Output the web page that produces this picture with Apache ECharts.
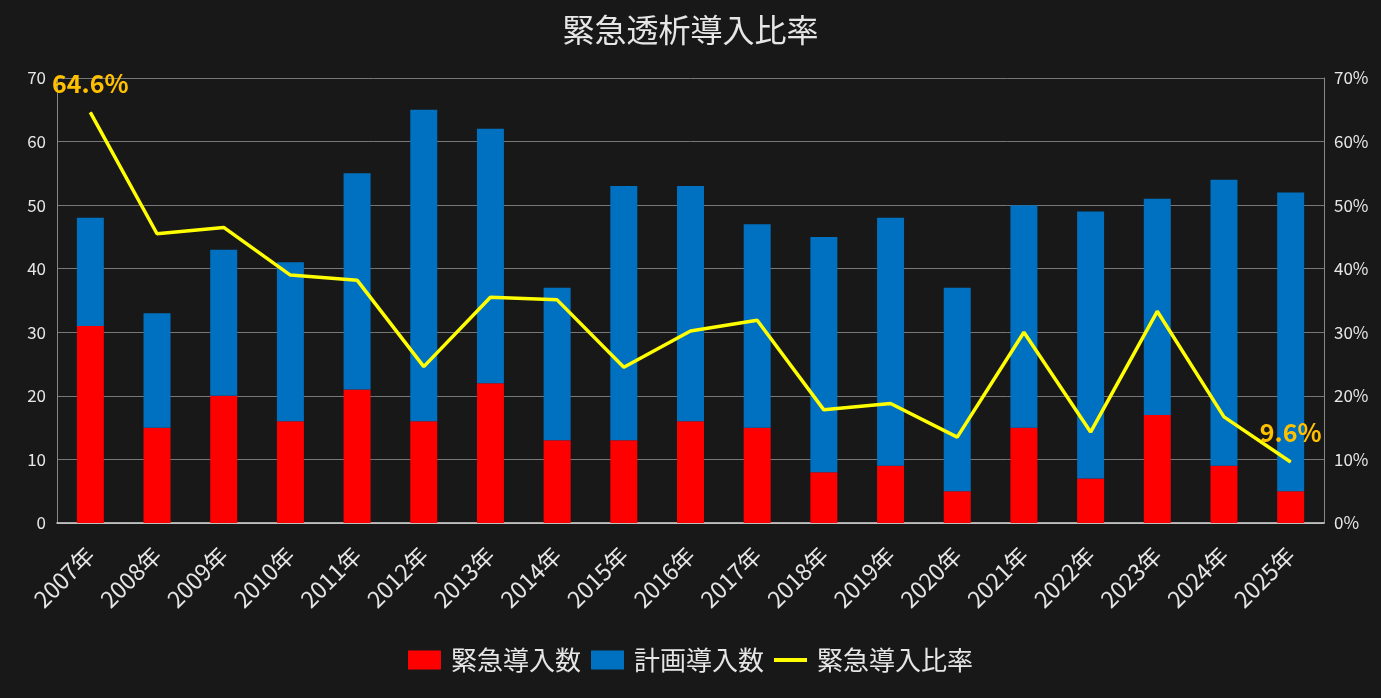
<!DOCTYPE html>
<html><head><meta charset="utf-8">
<script src="https://cdn.jsdelivr.net/npm/echarts@6/dist/echarts.min.js"></script>
<style>html,body{margin:0;padding:0;background:#181818;}#c{width:1381px;height:698px;}</style>
</head><body><div id="c"></div>
<script>
var years = ['2007年','2008年','2009年','2010年','2011年','2012年','2013年','2014年','2015年','2016年','2017年','2018年','2019年','2020年','2021年','2022年','2023年','2024年','2025年'];
var emergency = [31,15,20,16,21,16,22,13,13,16,15,8,9,5,15,7,17,9,5];
var planned = [17,18,23,25,34,49,40,24,40,37,32,37,39,32,35,42,34,45,47];
var ratio = [64.6,45.5,46.5,39.0,38.2,24.6,35.5,35.1,24.5,30.2,31.9,17.8,18.8,13.5,30.0,14.3,33.3,16.7,9.6];
var leftTicks = [0,10,20,30,40,50,60,70];
var rightTicks = ['0%','10%','20%','30%','40%','50%','60%','70%'];

var ff = '"Noto Sans CJK JP","Noto Sans",sans-serif';
var txt = '#e6e6e6';
var last = ratio.length - 1;
var chart = echarts.init(document.getElementById('c'));
chart.setOption({
  backgroundColor: '#181818',
  animation: false,
  textStyle: {fontFamily: ff},
  title: {text: '緊急透析導入比率', left: 'center', top: 9,
    textStyle: {color: txt, fontSize: 32, fontWeight: 'normal', fontFamily: ff}},
  legend: {bottom: 20, left: 'center', itemWidth: 33, itemHeight: 19, itemGap: 10,
    textStyle: {color: txt, fontSize: 26, fontFamily: ff, padding: [0, 0, 0, 5]},
    data: [{name:'緊急導入数', icon:'rect'},{name:'計画導入数', icon:'rect'},
           {name:'緊急導入比率', icon:'path://M0,0 L33,0 L33,4 L0,4 Z'}]},
  grid: {left: 57, right: 57, top: 78, bottom: 175},
  xAxis: {type: 'category', data: years,
    axisLine: {lineStyle: {color: '#d9d9d9', width: 1.5}},
    axisTick: {show: false},
    axisLabel: {color: txt, fontSize: 23, rotate: 45, interval: 0, margin: 28, fontFamily: ff}},
  yAxis: [
    {type: 'value', min: 0, max: 70, interval: 10,
     axisLine: {show: true, lineStyle: {color: '#888'}},
     axisTick: {show: false},
     splitLine: {lineStyle: {color: '#777'}},
     axisLabel: {color: txt, fontSize: 17, margin: 11, fontFamily: ff,
       formatter: function(v){ return leftTicks.indexOf(v) >= 0 ? String(v) : ''; }}},
    {type: 'value', min: 0, max: 70, interval: 10,
     axisLine: {show: true, lineStyle: {color: '#888'}},
     axisTick: {show: false},
     splitLine: {show: false},
     axisLabel: {color: txt, fontSize: 17, margin: 10, fontFamily: ff,
       formatter: function(v){ return rightTicks[v/10]; }}}
  ],
  series: [
    {name: '緊急導入数', type: 'bar', stack: 't', data: emergency, barWidth: 27,
     itemStyle: {color: '#ff0000'}},
    {name: '計画導入数', type: 'bar', stack: 't', data: planned, barWidth: 27,
     itemStyle: {color: '#0070c0'}},
    {name: '緊急導入比率', type: 'line', yAxisIndex: 1, data: ratio.map(function(v,i){
        var o = {value: v};
        if (i === 0 || i === last) {
          o.label = {show: true, position: 'top', distance: 16,
            formatter: function(p){ return p.value.toFixed(1) + '%'; },
            color: '#ffc000', fontSize: 25, fontWeight: 'bold', fontFamily: ff};
        }
        return o;
      }),
     symbol: 'circle', symbolSize: 1, showSymbol: true, showAllSymbol: true,
     lineStyle: {color: '#ffff00', width: 3.5}, itemStyle: {color: '#ffff00'}}
  ]
});
</script></body></html>
